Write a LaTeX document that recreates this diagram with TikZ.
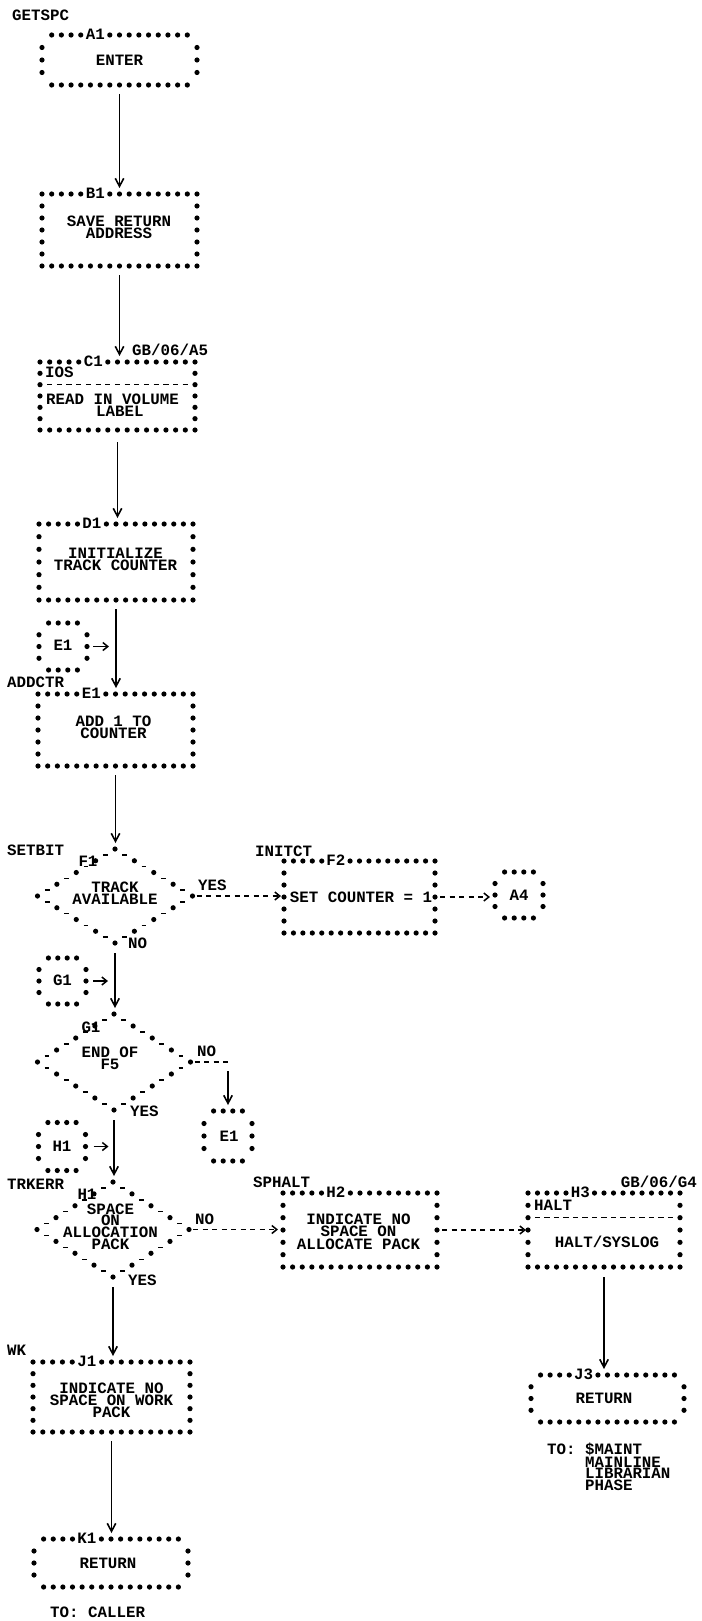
\documentclass[tikz,border=0pt]{standalone}
\usepackage{fontspec}
\newfontfamily\prt{Liberation Mono}
\usetikzlibrary{calc,shapes.geometric,arrows.meta}
\def\dotr{2.6pt}
\tikzset{
  bx/.style={rectangle, draw=none, inner sep=0pt, outer sep=0pt},
  dm/.style={diamond, draw=none, inner sep=0pt, outer sep=0pt},
  pfont/.style={font=\prt\bfseries\fontsize{15.8}{12}\selectfont},
  txt/.style={pfont, inner sep=0pt, text height=9pt, text depth=0pt},
  mtxt/.style={pfont, inner sep=0pt, align=center, anchor=north},
  ltxt/.style={pfont, inner sep=0pt, align=left, anchor=north west},
  lbl/.style={txt, fill=white, inner xsep=1.5pt, inner ysep=1pt},
  vflow/.style={line width=1.8pt, -{Straight Barb[length=8pt,width=8.5pt,line width=1.6pt]}, shorten <=9pt, shorten >=6pt},
  hdash/.style={line width=1.5pt, dash pattern=on 5pt off 4.5pt},
  hflow/.style={hdash, -{Straight Barb[length=5pt,width=8pt,line width=1.5pt]}},
  sflow/.style={line width=1.5pt, -{Straight Barb[length=5pt,width=8pt,line width=1.5pt]}},
}
% dotted box: name, cols, rows, first col
\newcommand\dbox[4]{%
  \pgfmathtruncatemacro\dbLast{#2-#4}%
  \pgfmathtruncatemacro\dbRl{#3-1}%
  \foreach \ci in {#4,...,\dbLast}{%
    \fill ($(#1.north west)!{\ci/#2}!(#1.north east)$) circle (\dotr);
    \fill ($(#1.south west)!{\ci/#2}!(#1.south east)$) circle (\dotr);
  }%
  \foreach \ri in {1,...,\dbRl}{%
    \fill ($(#1.north west)!{\ri/#3}!(#1.south west)$) circle (\dotr);
    \fill ($(#1.north east)!{\ri/#3}!(#1.south east)$) circle (\dotr);
  }%
}
% label on top row: name, cols, text
\newcommand\blabel[3]{\node[lbl] (#1l) at ($(#1.north west)!{5.5/#2}!(#1.north east)$) {#3};}
% dashed separator row: name, cols, rows, row
\newcommand\drow[4]{%
  \coordinate (#1dl) at ($(#1.north west)!{#4/#3}!(#1.south west)$);
  \coordinate (#1dr) at ($(#1.north east)!{#4/#3}!(#1.south east)$);
  \pgfmathtruncatemacro\dbN{#2-1}%
  \foreach \ci in {1,...,\dbN}{%
    \draw[line width=1.4pt] ($(#1dl)!{\ci/#2}!(#1dr)$) ++(-2.6,0) -- ++(5.2,0);
  }%
}
% dotted diamond
\newcommand\ddia[1]{%
  \foreach \pa/\pb in {north/east,east/south,south/west,west/north}{%
    \foreach \tq in {0,0.25,0.5,0.75}{\fill ($(#1.\pa)!\tq!(#1.\pb)$) circle (\dotr);}
    \foreach \tq in {0.125,0.375,0.625,0.875}{\draw[line width=1.4pt] ($(#1.\pa)!\tq!(#1.\pb)$) ++(-2.4,0) -- ++(4.8,0);}
  }%
}
\begin{document}
\begin{tikzpicture}[x=1pt,y=-1pt]
\useasboundingbox[fill=white] (0,0) rectangle (701,1621);

\node[txt, anchor=west] (tGETSPC) at (12,16) {GETSPC};

% A1
\node[bx, minimum width=155pt, minimum height=50pt] (A1) at (119.5,60) {};
\dbox{A1}{16}{4}{1}
\blabel{A1}{16}{A1}
\node[txt] (A1t) at (119.5,61) {ENTER};

% B1
\node[bx, minimum width=155pt, minimum height=72pt] (B1) at (119.5,230) {};
\dbox{B1}{16}{6}{0}
\blabel{B1}{16}{B1}
\node[mtxt] (B1t) at (119,215.5) {SAVE RETURN\\ADDRESS};

% C1
\node[bx, minimum width=155pt, minimum height=68pt] (C1) at (117.5,396) {};
\dbox{C1}{16}{6}{0}
\blabel{C1}{16}{C1}
\drow{C1}{16}{6}{2}
\node[txt, anchor=west] (C1t0) at (45,373) {IOS};
\node[ltxt] (C1t) at (46,393.5) {READ IN VOLUME\\\hspace*{50pt}LABEL};
\node[txt, anchor=west] (tGBA5) at (132,351) {GB/06/A5};

% D1
\node[bx, minimum width=154pt, minimum height=76pt] (D1) at (116,562) {};
\dbox{D1}{16}{6}{0}
\blabel{D1}{16}{D1}
\node[mtxt] (D1t) at (115.5,547.5) {INITIALIZE\\TRACK COUNTER};

% connector E1 (left)
\node[bx, minimum width=48pt, minimum height=47pt] (cE1) at (63,646.5) {};
\dbox{cE1}{5}{4}{1}
\node[txt] (cE1t) at (63,646) {E1};

\node[txt, anchor=west] (tADDCTR) at (7,683) {ADDCTR};

% E1
\node[bx, minimum width=155pt, minimum height=72pt] (E1) at (115.5,730) {};
\dbox{E1}{16}{6}{0}
\blabel{E1}{16}{E1}
\node[mtxt] (E1t) at (113.5,715.5) {ADD 1 TO\\COUNTER};

% F1
\node[txt, anchor=west] (tSETBIT) at (7,851) {SETBIT};
\node[dm, minimum width=155pt, minimum height=94pt] (F1) at (115,896) {};
\ddia{F1}
\node[txt] (F1l) at (88,862) {F1};
\node[mtxt] (F1t) at (115,882) {TRACK\\AVAILABLE};
\node[txt, anchor=west] (F1yes) at (198,886) {YES};
\node[txt, anchor=west] (F1no) at (128,944) {NO};

% F2
\node[txt, anchor=west] (tINITCT) at (255,852) {INITCT};
\node[bx, minimum width=151pt, minimum height=72pt] (F2) at (359.5,897) {};
\dbox{F2}{16}{6}{0}
\blabel{F2}{16}{F2}
\node[txt] (F2t) at (361,898) {SET COUNTER = 1};

% connector A4
\node[bx, minimum width=48pt, minimum height=46pt] (cA4) at (519,895) {};
\dbox{cA4}{5}{4}{1}
\node[txt] (cA4t) at (519,896) {A4};

% connector G1 (left)
\node[bx, minimum width=47pt, minimum height=46pt] (cG1) at (62.5,981) {};
\dbox{cG1}{5}{4}{1}
\node[txt] (cG1t) at (62.5,981) {G1};

% G1
\node[dm, minimum width=153pt, minimum height=96pt] (G1) at (114,1062) {};
\ddia{G1}
\node[txt] (G1l) at (91,1028) {G1};
\node[mtxt] (G1t) at (110,1047) {END OF\\F5};
\node[txt, anchor=west] (G1no) at (197,1052) {NO};
\node[txt, anchor=west] (G1yes) at (130,1112) {YES};

% connector E1 (right)
\node[bx, minimum width=48pt, minimum height=50pt] (cE1b) at (228,1136) {};
\dbox{cE1b}{5}{4}{1}
\node[txt] (cE1bt) at (229,1137) {E1};

% connector H1 (left)
\node[bx, minimum width=47pt, minimum height=48pt] (cH1) at (62,1146.5) {};
\dbox{cH1}{5}{4}{1}
\node[txt] (cH1t) at (62,1146.5) {H1};

% H1
\node[txt, anchor=west] (tTRKERR) at (7,1185) {TRKERR};
\node[dm, minimum width=152pt, minimum height=95pt] (H1) at (113,1229.5) {};
\ddia{H1}
\node[txt] (H1l) at (87,1195) {H1};
\node[mtxt, font=\prt\bfseries\fontsize{15.8}{11.7}\selectfont] (H1t) at (110.5,1203.5) {SPACE\\ON\\ALLOCATION\\PACK};
\node[txt, anchor=west] (H1no) at (195,1220) {NO};
\node[txt, anchor=west] (H1yes) at (128,1281) {YES};

% H2
\node[txt, anchor=west] (tSPHALT) at (253,1183) {SPHALT};
\node[bx, minimum width=154pt, minimum height=74pt] (H2) at (360,1230) {};
\dbox{H2}{16}{6}{0}
\blabel{H2}{16}{H2}
\node[mtxt, font=\prt\bfseries\fontsize{15.8}{12.5}\selectfont] (H2t) at (358.5,1213.5) {INDICATE NO\\SPACE ON\\ALLOCATE PACK};

% H3
\node[txt, anchor=east] (tGBG4) at (697,1183) {GB/06/G4};
\node[bx, minimum width=152pt, minimum height=74pt] (H3) at (604,1230) {};
\dbox{H3}{16}{6}{0}
\blabel{H3}{16}{H3}
\drow{H3}{16}{6}{2}
\node[txt, anchor=west] (H3t0) at (534,1206) {HALT};
\node[txt] (H3t1) at (607,1243) {HALT/SYSLOG};

% J3
\node[bx, minimum width=153pt, minimum height=47pt] (J3) at (607.5,1398.5) {};
\dbox{J3}{16}{4}{1}
\blabel{J3}{16}{J3}
\node[txt] (J3t) at (604,1399) {RETURN};
\node[ltxt, font=\prt\bfseries\fontsize{15.8}{11.5}\selectfont] (J3to) at (547,1442.5) {TO: \$MAINT\\\hspace*{37.9pt}MAINLINE\\\hspace*{37.9pt}LIBRARIAN\\\hspace*{37.9pt}PHASE};

% J1
\node[txt, anchor=west] (tWK) at (7,1351) {WK};
\node[bx, minimum width=157pt, minimum height=70pt] (J1) at (111.5,1397) {};
\dbox{J1}{16}{6}{0}
\blabel{J1}{16}{J1}
\node[mtxt] (J1t) at (111.5,1382.5) {INDICATE NO\\SPACE ON WORK\\PACK};

% K1
\node[bx, minimum width=154pt, minimum height=48pt] (K1) at (111,1563) {};
\dbox{K1}{16}{4}{1}
\blabel{K1}{16}{K1}
\node[txt] (K1t) at (108,1564) {RETURN};
\node[txt, anchor=west] (K1to) at (50,1613) {TO: CALLER};

% vertical flow
\draw[vflow] (A1.south) -- (A1.south |- B1.north);
\draw[vflow] (B1.south) -- (B1.south |- C1.north);
\draw[vflow, shorten <=12pt] (C1.south) -- (C1.south |- D1.north);
\draw[vflow] (D1.south) -- (D1.south |- E1.north);
\draw[vflow] (E1.south) -- (E1.south |- F1.north);
\draw[vflow, shorten <=10pt] (F1.south) -- (F1.south |- G1.north);
\draw[vflow, shorten <=10pt] (G1.south) -- (G1.south |- H1.north);
\draw[vflow, shorten <=10pt] (H1.south) -- (H1.south |- J1.north);
\draw[vflow] (J1.south) -- (J1.south |- K1.north);
\draw[vflow, shorten <=10pt] (H3.south) -- (H3.south |- J3.north);

% small connector arrows
\draw[sflow] ($(cE1.east)+(6,0)$) -- ($(cE1.east)+(22,0)$);
\draw[sflow] ($(cG1.east)+(7,0)$) -- ($(cG1.east)+(22,0)$);
\draw[sflow] ($(cH1.east)+(8,0)$) -- ($(cH1.east)+(23,0)$);

% horizontal flow
\draw[hflow, shorten <=4pt, shorten >=3pt] (F1.east) -- (F1.east -| F2.west);
\draw[hflow, shorten <=5pt, shorten >=5pt] (F2.east) -- (F2.east -| cA4.west);
\draw[hflow, shorten <=4pt, shorten >=5pt] (H1.east) -- (H1.east -| H2.west);
\draw[hflow, shorten <=5pt, shorten >=2pt] (H2.east) -- (H2.east -| H3.west);

% G1 NO branch to E1 connector
\coordinate (gbend) at (G1.east -| cE1b.north);
\draw[hdash, shorten <=4pt] (G1.east) -- (gbend);
\draw[vflow] (gbend) -- (cE1b.north);
\end{tikzpicture}
\end{document}
